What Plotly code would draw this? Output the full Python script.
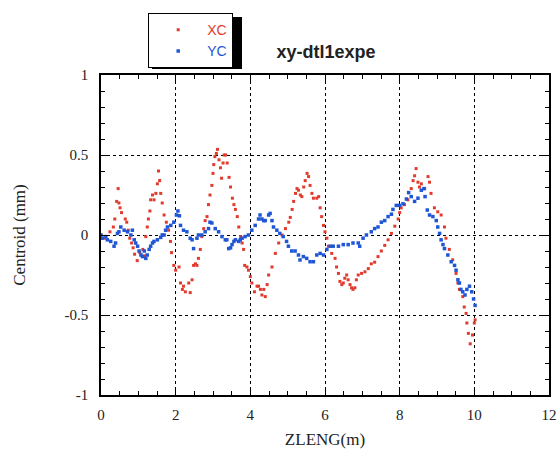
import plotly.graph_objects as go

# XC (red) series: z positions (m) and centroid (mm)
xc_z = [0.0, 0.1, 0.24, 0.33, 0.37, 0.42, 0.46, 0.48, 0.51, 0.55, 0.65, 0.69, 0.73, 0.77, 0.82, 0.86, 0.9, 0.97,
        1.04, 1.12, 1.17, 1.2, 1.24, 1.27, 1.31, 1.33, 1.38, 1.42, 1.47, 1.51, 1.54, 1.57, 1.6, 1.64, 1.69, 1.75,
        1.81, 1.86, 1.89, 1.95, 2.0, 2.09, 2.13, 2.18, 2.21, 2.26, 2.35, 2.39, 2.44, 2.48, 2.53, 2.57, 2.61, 2.66,
        2.7, 2.75, 2.79, 2.84, 2.88, 2.92, 2.97, 3.0, 3.02, 3.05, 3.09, 3.12, 3.16, 3.2, 3.23, 3.27, 3.3, 3.34,
        3.38, 3.43, 3.47, 3.52, 3.56, 3.6, 3.65, 3.69, 3.74, 3.78, 3.82, 3.85, 3.91, 3.95, 4.0, 4.04, 4.11, 4.18,
        4.22, 4.27, 4.31, 4.36, 4.4, 4.45, 4.49, 4.58, 4.67, 4.76, 4.85, 4.94, 5.03, 5.07, 5.12, 5.16, 5.21, 5.25,
        5.29, 5.34, 5.38, 5.43, 5.47, 5.52, 5.56, 5.6, 5.65, 5.69, 5.78, 5.83, 5.87, 5.91, 5.96, 6.0, 6.05, 6.09,
        6.18, 6.27, 6.31, 6.36, 6.4, 6.45, 6.49, 6.53, 6.58, 6.62, 6.67, 6.71, 6.75, 6.8, 6.84, 6.89, 6.98, 7.07,
        7.16, 7.24, 7.33, 7.42, 7.51, 7.6, 7.69, 7.78, 7.87, 7.96, 8.0, 8.04, 8.13, 8.22, 8.31, 8.36, 8.4, 8.44,
        8.49, 8.53, 8.58, 8.67, 8.76, 8.8, 8.84, 8.93, 9.02, 9.11, 9.2, 9.24, 9.33, 9.42, 9.51, 9.56, 9.6, 9.69,
        9.73, 9.78, 9.8, 9.84, 9.89, 9.95, 10.0, 10.02]
xc_v = [0.0, -0.02, 0.02, 0.05, 0.1, 0.21, 0.29, 0.2, 0.17, 0.14, 0.1, 0.08, 0.03, -0.02, -0.05, -0.08, -0.12, -0.16,
        -0.11, -0.09, -0.13, -0.01, 0.05, 0.1, 0.15, 0.22, 0.25, 0.22, 0.26, 0.32, 0.4, 0.34, 0.26, 0.2, 0.125, 0.08,
        0.03, -0.04, -0.11, -0.19, -0.22, -0.2, -0.3, -0.34, -0.32, -0.355, -0.3, -0.36, -0.28, -0.19, -0.18, -0.19, -0.146, -0.09,
        -0.01, 0.04, 0.09, 0.115, 0.19, 0.25, 0.31, 0.385, 0.44, 0.49, 0.51, 0.535, 0.47, 0.42, 0.355, 0.45, 0.5, 0.5,
        0.45, 0.36, 0.3, 0.23, 0.19, 0.16, 0.115, 0.05, -0.01, -0.05, -0.09, -0.19, -0.2, -0.22, -0.26, -0.3, -0.355, -0.32,
        -0.32, -0.34, -0.375, -0.34, -0.385, -0.31, -0.25, -0.2, -0.115, -0.05, 0.0, 0.04, 0.08, 0.11, 0.16, 0.21, 0.26, 0.29,
        0.28, 0.25, 0.24, 0.3, 0.34, 0.385, 0.365, 0.31, 0.26, 0.23, 0.23, 0.24, 0.17, 0.115, 0.06, 0.02, -0.02, -0.07,
        -0.115, -0.146, -0.2, -0.24, -0.29, -0.31, -0.3, -0.27, -0.25, -0.28, -0.31, -0.33, -0.34, -0.33, -0.28, -0.25, -0.24, -0.23,
        -0.21, -0.18, -0.17, -0.135, -0.1, -0.065, -0.03, 0.01, 0.055, 0.1, 0.14, 0.17, 0.19, 0.22, 0.29, 0.34, 0.37, 0.415,
        0.33, 0.3, 0.32, 0.29, 0.365, 0.33, 0.26, 0.17, 0.145, 0.125, 0.05, -0.02, -0.09, -0.155, -0.24, -0.3, -0.34, -0.385,
        -0.45, -0.49, -0.55, -0.615, -0.68, -0.625, -0.55, -0.53]

# YC (blue) series
yc_z = [0.0, 0.04, 0.13, 0.17, 0.26, 0.35, 0.39, 0.44, 0.48, 0.53, 0.62, 0.71, 0.8, 0.84, 0.89, 0.93, 0.98, 1.02,
        1.07, 1.11, 1.16, 1.2, 1.24, 1.29, 1.33, 1.38, 1.42, 1.51, 1.6, 1.64, 1.69, 1.73, 1.78, 1.87, 1.95, 2.02,
        2.06, 2.1, 2.13, 2.21, 2.3, 2.39, 2.44, 2.48, 2.57, 2.61, 2.7, 2.79, 2.88, 2.92, 2.97, 3.06, 3.15, 3.24,
        3.33, 3.37, 3.42, 3.47, 3.51, 3.56, 3.6, 3.69, 3.73, 3.78, 3.86, 3.95, 4.04, 4.13, 4.22, 4.26, 4.31, 4.36,
        4.4, 4.49, 4.53, 4.58, 4.62, 4.71, 4.79, 4.88, 4.97, 5.02, 5.11, 5.2, 5.29, 5.33, 5.42, 5.51, 5.6, 5.69,
        5.78, 5.87, 5.96, 6.05, 6.14, 6.22, 6.36, 6.49, 6.62, 6.75, 6.89, 6.93, 7.02, 7.11, 7.24, 7.33, 7.42, 7.51,
        7.6, 7.69, 7.78, 7.82, 7.91, 8.0, 8.09, 8.18, 8.24, 8.31, 8.4, 8.49, 8.58, 8.65, 8.68, 8.74, 8.8, 8.89,
        8.98, 9.02, 9.07, 9.11, 9.16, 9.2, 9.29, 9.38, 9.47, 9.51, 9.56, 9.6, 9.64, 9.69, 9.75, 9.8, 9.87, 9.93,
        9.98, 10.02]
yc_v = [0.0, -0.02, -0.01, -0.03, -0.04, -0.07, -0.05, 0.01, 0.02, 0.05, 0.03, 0.02, 0.0, 0.03, -0.03, -0.05, -0.07, -0.1,
        -0.125, -0.135, -0.1, -0.146, -0.125, -0.09, -0.07, -0.05, -0.04, -0.03, -0.015, 0.0, 0.0, 0.03, 0.05, 0.06, 0.08, 0.125,
        0.15, 0.12, 0.06, 0.03, 0.02, -0.02, -0.03, -0.085, -0.02, 0.0, 0.0, 0.02, 0.04, 0.08, 0.075, 0.04, 0.02, -0.01,
        -0.03, -0.03, -0.085, -0.08, -0.06, -0.04, -0.03, -0.04, -0.03, -0.02, -0.01, 0.0, 0.03, 0.06, 0.1, 0.125, 0.1, 0.09,
        0.09, 0.125, 0.135, 0.09, 0.05, 0.03, 0.01, -0.01, -0.04, -0.07, -0.1, -0.1, -0.125, -0.156, -0.135, -0.146, -0.167, -0.167,
        -0.125, -0.115, -0.125, -0.09, -0.07, -0.07, -0.07, -0.06, -0.06, -0.05, -0.05, -0.07, -0.02, 0.0, 0.02, 0.04, 0.05, 0.08,
        0.09, 0.115, 0.13, 0.16, 0.185, 0.185, 0.195, 0.225, 0.265, 0.24, 0.21, 0.23, 0.28, 0.29, 0.24, 0.156, 0.125, 0.115,
        0.09, 0.05, 0.01, -0.03, -0.06, -0.085, -0.125, -0.167, -0.19, -0.22, -0.28, -0.3, -0.34, -0.355, -0.375, -0.34, -0.32, -0.355,
        -0.4, -0.44]

x_ticks = [0, 2, 4, 6, 8, 10, 12]
y_ticks = [-1, -0.5, 0, 0.5, 1]
y_tick_text = ["-1", "-0.5", "0", "0.5", "1"]

RED = "#e23b2e"
BLUE = "#1f56d6"

W, H = 560, 450
L, T, PW, PH = 101, 75, 448, 320

fig = go.Figure()
fig.add_trace(go.Scatter(x=xc_z, y=xc_v, mode="markers",
                         name="<span style='color:%s'>XC</span>" % RED,
                         marker=dict(symbol="square", size=3, color=RED, line=dict(width=0))))
fig.add_trace(go.Scatter(x=yc_z, y=yc_v, mode="markers",
                         name="<span style='color:%s'>YC</span>" % BLUE,
                         marker=dict(symbol="square", size=3.5, color=BLUE, line=dict(width=0))))

axis_common = dict(
    showline=True, linecolor="black", linewidth=1.5, mirror="allticks",
    ticks="inside", ticklen=8, tickcolor="black", tickwidth=1,
    showgrid=True, gridcolor="black", griddash="dot", gridwidth=1,
    zeroline=False, automargin=False,
    tickfont=dict(family="Liberation Serif", size=15, color="#222"),
)

fig.update_xaxes(range=[0, 12], tickvals=x_ticks, ticktext=[str(t) for t in x_ticks],
                 ticklabelstandoff=5,
                 minor=dict(dtick=0.5, ticks="inside", ticklen=4, tickcolor="black", showgrid=False),
                 title=dict(text="ZLENG(m)", font=dict(family="Liberation Serif", size=17, color="#222"), standoff=11),
                 **axis_common)
fig.update_yaxes(range=[-1, 1], tickvals=y_ticks, ticktext=y_tick_text,
                 ticklabelstandoff=8,
                 minor=dict(dtick=0.1, ticks="inside", ticklen=4, tickcolor="black", showgrid=False),
                 title=dict(text="Centroid (mm)", font=dict(family="Liberation Serif", size=17, color="#222"), standoff=35),
                 **axis_common)

def px_x(p):
    return (p - L) / PW

def px_y(p):
    return (T + PH - p) / PH

# legend shadow
fig.add_shape(type="rect", xref="paper", yref="paper",
              x0=px_x(152), x1=px_x(242), y0=px_y(69), y1=px_y(17),
              fillcolor="black", line=dict(width=0), layer="below")

fig.update_layout(
    width=W, height=H,
    margin=dict(l=L, r=W - L - PW, t=T, b=H - T - PH, autoexpand=False),
    paper_bgcolor="white", plot_bgcolor="white",
    title=dict(text="<b>xy-dtl1expe</b>", x=326 / W, xanchor="center", y=1 - 52 / H, yanchor="middle",
               font=dict(family="Liberation Sans", size=18, color="#222")),
    legend=dict(x=px_x(148), xanchor="left", y=px_y(13), yanchor="top",
                bgcolor="white", bordercolor="black", borderwidth=1.2,
                font=dict(family="Liberation Sans", size=14), itemsizing="trace",
                tracegroupgap=0, itemwidth=48),
    showlegend=True,
)

fig.write_html("out.html", config={"displayModeBar": False},
               post_script="document.body.style.margin='0';document.body.style.overflow='hidden';")
